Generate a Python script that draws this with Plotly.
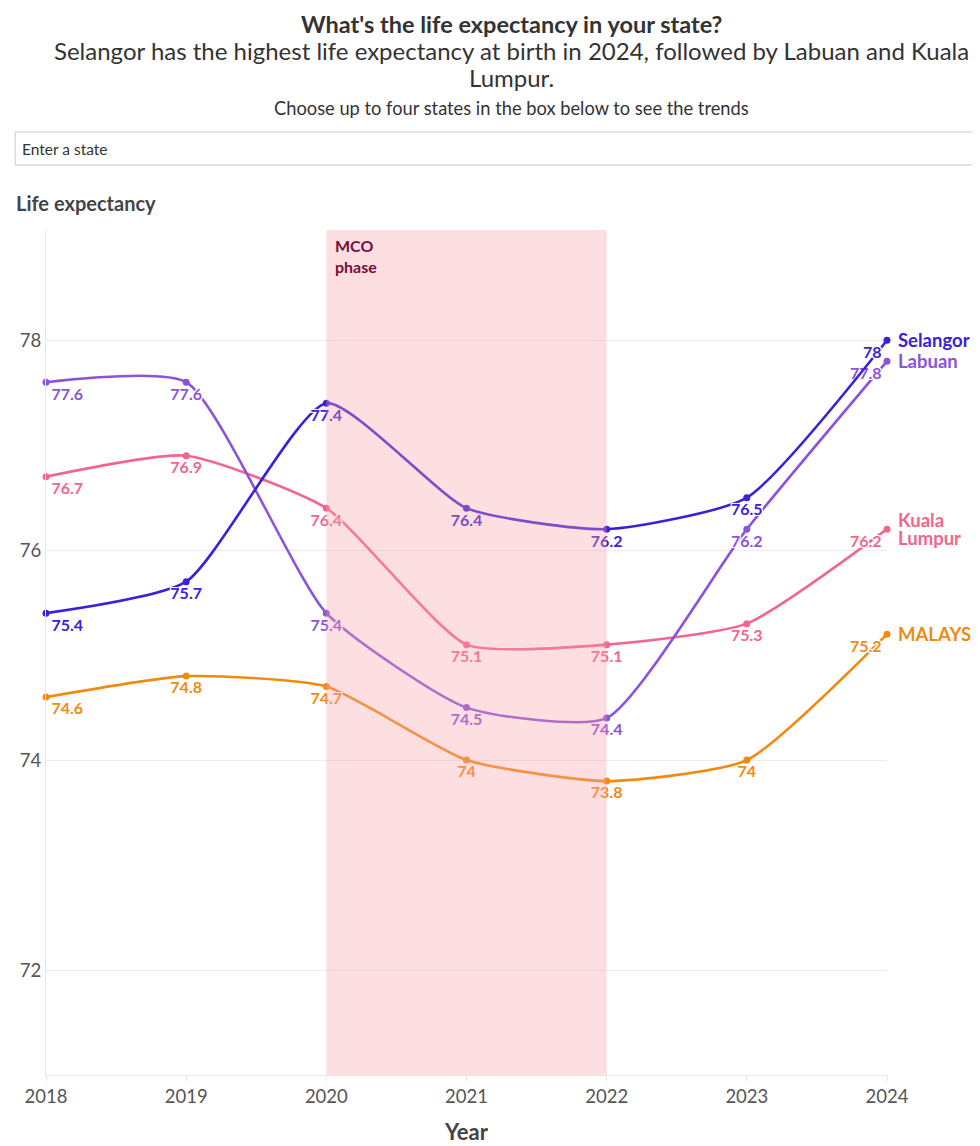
import plotly.graph_objects as go

years = [2018, 2019, 2020, 2021, 2022, 2023, 2024]
selangor = [75.4, 75.7, 77.4, 76.4, 76.2, 76.5, 78.0]
labuan = [77.6, 77.6, 75.4, 74.5, 74.4, 76.2, 77.8]
kuala_lumpur = [76.7, 76.9, 76.4, 75.1, 75.1, 75.3, 76.2]
malaysia = [74.6, 74.8, 74.7, 74.0, 73.8, 74.0, 75.2]

series_names = [["MALAYSIA"], ["Kuala", "Lumpur"], ["Labuan"], ["Selangor"]]
series_values = [malaysia, kuala_lumpur, labuan, selangor]
series_colors = ["#F28A12", "#F2668C", "#8B52DC", "#3B20D9"]

y_ticks = [72, 74, 76, 78]
mco_start, mco_end = 2020, 2022

FONT = "Lato"
# page body has an 8px margin, so the figure is sized to end at the window edge
W, H = 972, 1138
L, R, T, B = 34, 93, 222, 71
PLOT_L, PLOT_B, PW, PH = 42, 1075, 845, 845  # plot area in window pixels


def px(x):
    return (x - PLOT_L) / PW


def py(y):
    return (PLOT_B - y) / PH


halo = ("1px 1px 0 #fff, -1px -1px 0 #fff, 1px -1px 0 #fff, -1px 1px 0 #fff, "
        "0 1px 0 #fff, 0 -1px 0 #fff, 1px 0 0 #fff, -1px 0 0 #fff")

fig = go.Figure()
for name_lines, vals, col in zip(series_names, series_values, series_colors):
    n = len(vals)
    positions = ["bottom right"] + ["bottom center"] * (n - 2) + ["bottom left"]
    fig.add_trace(go.Scatter(
        x=years, y=vals, mode="lines+markers+text",
        line=dict(color=col, width=2.6, shape="spline", smoothing=0.55),
        marker=dict(color=col, size=7),
        text=[f"{v:g}" for v in vals],
        textposition=positions,
        textfont=dict(family=FONT, size=16, color=col, weight="bold", shadow=halo),
        cliponaxis=False, showlegend=False, name=" ".join(name_lines),
    ))
    fig.add_shape(type="line", xref="x", yref="y", xsizemode="pixel", xanchor=years[-1],
                  x0=5, x1=10, y0=vals[-1], y1=vals[-1], line=dict(color=col, width=1))
    k = len(name_lines)
    for i, part in enumerate(name_lines):
        fig.add_annotation(x=years[-1], y=vals[-1], xref="x", yref="y", text=f"<b>{part}</b>",
                           xanchor="left", yanchor="middle", xshift=10,
                           yshift=((k - 1) / 2 - i) * 18, showarrow=False, align="left",
                           borderpad=0, font=dict(family=FONT, size=18.5, color=col))

# MCO shading on top of the lines
fig.add_shape(type="rect", xref="x", yref="paper", x0=mco_start, x1=mco_end, y0=0, y1=1,
              fillcolor="rgb(250,160,170)", opacity=0.35, line=dict(width=0), layer="above")
fig.add_annotation(x=mco_start, y=1, xref="x", yref="paper", text="<b>MCO<br>phase</b>",
                   xanchor="left", yanchor="top", xshift=7, yshift=-4, showarrow=False, align="left",
                   font=dict(family=FONT, size=16, color="#7B0A3C"))

# header texts
cx = px(510)
fig.add_annotation(x=cx, y=py(24), xref="paper", yref="paper", showarrow=False,
                   text="<b>What's the life expectancy in your state?</b>",
                   font=dict(family=FONT, size=23.5, color="#333"), yanchor="middle")
fig.add_annotation(x=cx, y=py(50), xref="paper", yref="paper", showarrow=False,
                   text="Selangor has the highest life expectancy at birth in 2024, followed by Labuan and Kuala",
                   font=dict(family=FONT, size=24, color="#333"), yanchor="middle")
fig.add_annotation(x=cx, y=py(77), xref="paper", yref="paper", showarrow=False,
                   text="Lumpur.",
                   font=dict(family=FONT, size=24, color="#333"), yanchor="middle")
fig.add_annotation(x=cx, y=py(108), xref="paper", yref="paper", showarrow=False,
                   text="Choose up to four states in the box below to see the trends",
                   font=dict(family=FONT, size=18.3, color="#333"), yanchor="middle")
fig.add_shape(type="rect", xref="paper", yref="paper", x0=px(11), x1=px(1100), y0=py(165), y1=py(132),
              line=dict(color="#c8c8c8", width=1), fillcolor="white", layer="above")
fig.add_annotation(x=px(16), y=py(148.5), xref="paper", yref="paper", showarrow=False,
                   text="Enter a state", xanchor="left", yanchor="middle",
                   font=dict(family=FONT, size=15.5, color="#333"))
fig.add_annotation(x=px(10), y=py(203), xref="paper", yref="paper", showarrow=False,
                   text="<b>Life expectancy</b>", xanchor="left", yanchor="middle",
                   font=dict(family=FONT, size=20, color="#444"))
fig.add_annotation(x=px(465), y=py(1131), xref="paper", yref="paper", showarrow=False,
                   text="<b>Year</b>", xanchor="center", yanchor="middle",
                   font=dict(family=FONT, size=22, color="#444"))

fig.update_layout(
    width=W, height=H, margin=dict(l=L, r=R, t=T, b=B),
    paper_bgcolor="white", plot_bgcolor="white",
    font=dict(family=FONT, color="#444"),
    xaxis=dict(range=[2018, 2024], tickvals=years, showgrid=False, zeroline=False,
               showline=True, linecolor="#e6e6e6", linewidth=1,
               ticks="outside", ticklen=5, tickcolor="#e6e6e6",
               tickfont=dict(family=FONT, size=18.5, color="#555"), fixedrange=True),
    yaxis=dict(range=[71.0, 79.05], tickvals=y_ticks, showgrid=True, gridcolor="#ececec",
               zeroline=False, showline=True, linecolor="#e6e6e6", linewidth=1,
               ticks="", tickfont=dict(family=FONT, size=18.5, color="#555"), fixedrange=True),
)

fig.write_html("out.html")
